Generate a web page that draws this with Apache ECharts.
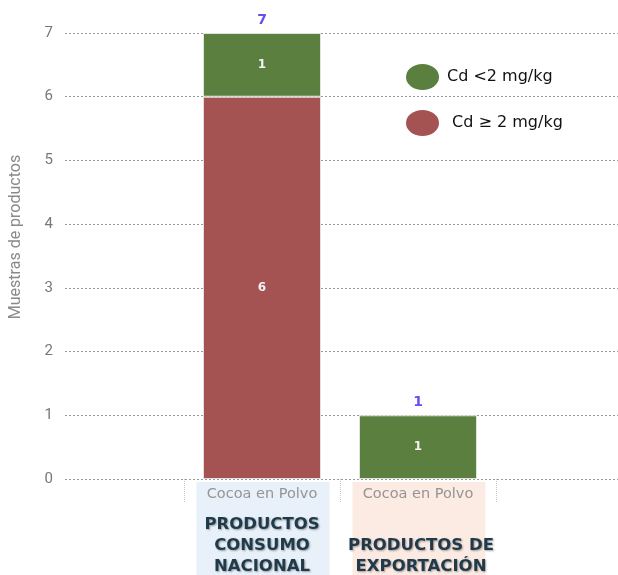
<!DOCTYPE html>
<html>
<head>
<meta charset="utf-8">
<script src="https://cdn.jsdelivr.net/npm/echarts@6/dist/echarts.min.js"></script>
<style>
  html, body { margin: 0; padding: 0; background: #ffffff; }
  #chart { width: 618px; height: 575px; }
</style>
</head>
<body>
<div id="chart"></div>
<script>
// Cadmium results for cocoa powder samples
const categories = ['Cocoa en Polvo', 'Cocoa en Polvo'];
const groupNames = ['PRODUCTOS\nCONSUMO\nNACIONAL', 'PRODUCTOS DE\nEXPORTACIÓN'];
const highCd = [6, null];   // Cd ≥ 2 mg/kg
const lowCd = [1, 1];       // Cd <2 mg/kg
const yTicks = [0, 1, 2, 3, 4, 5, 6, 7];

const totals = categories.map((_, i) => (highCd[i] || 0) + (lowCd[i] || 0));

const RED = '#a55252';
const GREEN = '#5b7f3f';
const SANS = 'Roboto, "Liberation Sans", Arial, sans-serif';
const WIDE = '"DejaVu Sans", Verdana, sans-serif';

const chart = echarts.init(document.getElementById('chart'));

const insideLabel = {
  show: true,
  position: 'inside',
  color: '#f2f2f2',
  fontWeight: 'bold',
  fontSize: 12,
  fontFamily: WIDE,
  formatter: p => (p.value == null ? '' : String(p.value))
};

const option = {
  animation: false,
  backgroundColor: '#ffffff',
  legend: {
    orient: 'vertical',
    left: 401,
    top: 59,
    itemWidth: 33,
    itemHeight: 26,
    itemGap: 20,
    symbolKeepAspect: false,
    icon: 'path://M0,13 A16.5,13 0 1,1 33,13 A16.5,13 0 1,1 0,13 Z',
    itemStyle: { borderWidth: 0 },
    data: ['Cd <2 mg/kg', 'Cd ≥ 2 mg/kg'],
    formatter: name => (name.indexOf('≥') >= 0 ? ' ' + name : name),
    textStyle: {
      color: '#111111',
      fontSize: 16,
      fontFamily: WIDE,
      padding: [0, 0, 0, 3]
    }
  },
  grid: [
    // gridlines and value axis
    { left: 60, right: 0, top: 33, bottom: 96 },
    // bars and category axis
    { left: 184, right: 122, top: 33, bottom: 96 }
  ],
  xAxis: [
    { gridIndex: 0, type: 'category', data: ['a'], show: false },
    {
      gridIndex: 1,
      type: 'category',
      data: categories,
      axisLine: { show: false },
      axisTick: {
        show: true,
        length: 24,
        lineStyle: { color: '#c8c8c8', type: 'dotted', width: 1 }
      },
      axisLabel: {
        interval: 0,
        margin: 8,
        color: '#959595',
        fontSize: 14.5,
        fontFamily: WIDE
      }
    }
  ],
  yAxis: [
    {
      gridIndex: 0,
      type: 'value',
      min: 0,
      max: 7,
      interval: 1,
      name: 'Muestras de productos',
      nameLocation: 'middle',
      nameGap: 41,
      nameRotate: 90,
      nameTextStyle: {
        color: '#8a8a8a',
        fontSize: 16,
        fontFamily: SANS,
        padding: [0, 0, 0, 38]
      },
      axisLine: { show: false },
      axisTick: { show: false },
      axisLabel: {
        margin: 12,
        color: '#777777',
        fontSize: 15,
        fontFamily: SANS,
        formatter: v => (yTicks.includes(v) ? String(v) : '')
      },
      splitLine: {
        show: true,
        lineStyle: { color: '#9a9a9a', type: [2, 2], width: 1 }
      }
    },
    {
      gridIndex: 1,
      type: 'value',
      min: 0,
      max: 7,
      interval: 1,
      show: false,
      splitLine: { show: false }
    }
  ],
  series: [
    {
      name: 'Cd ≥ 2 mg/kg',
      type: 'bar',
      xAxisIndex: 1,
      yAxisIndex: 1,
      stack: 'cd',
      barWidth: 118,
      data: highCd,
      itemStyle: { color: RED, borderColor: '#e9dede', borderWidth: 1 },
      label: insideLabel
    },
    {
      name: 'Cd <2 mg/kg',
      type: 'bar',
      xAxisIndex: 1,
      yAxisIndex: 1,
      stack: 'cd',
      barWidth: 118,
      data: lowCd,
      itemStyle: { color: GREEN, borderColor: '#dfe6da', borderWidth: 1 },
      label: insideLabel
    },
    {
      // totals shown above each stack
      name: 'Total',
      type: 'bar',
      xAxisIndex: 1,
      yAxisIndex: 1,
      stack: 'cd',
      barWidth: 118,
      data: totals.map(() => 0),
      itemStyle: { color: 'transparent' },
      label: {
        show: true,
        position: 'top',
        distance: 6,
        color: '#6a4cf0',
        fontWeight: 'bold',
        fontSize: 14,
        fontFamily: WIDE,
        formatter: p => String(totals[p.dataIndex])
      },
      tooltip: { show: false }
    }
  ]
};

chart.setOption(option);

// shaded group captions below the category labels
const bandTop = 482;
const bandWidths = [133, 133];
const bandColors = ['#e8f0f9', '#fcebe3'];
const captionTops = [514, 535];
const graphics = [];
categories.forEach((_, i) => {
  const cx = chart.convertToPixel({ xAxisIndex: 1 }, i);
  graphics.push({
    type: 'rect',
    z: -10,
    shape: { x: cx - bandWidths[i] / 2 + 1, y: bandTop, width: bandWidths[i], height: 575 - bandTop },
    style: { fill: bandColors[i] }
  });
  graphics.push({
    type: 'text',
    z: 10,
    x: cx + (i === 1 ? 3 : 0),
    y: captionTops[i],
    style: {
      text: groupNames[i],
      align: 'center',
      verticalAlign: 'top',
      fill: '#1f3a4a',
      font: 'bold 16.5px "DejaVu Sans", Verdana, sans-serif',
      lineHeight: 21,
      textShadowColor: 'rgba(0,0,0,0.35)',
      textShadowBlur: 2,
      textShadowOffsetX: 1,
      textShadowOffsetY: 1
    }
  });
});
chart.setOption({ graphic: graphics });
</script>
</body>
</html>
